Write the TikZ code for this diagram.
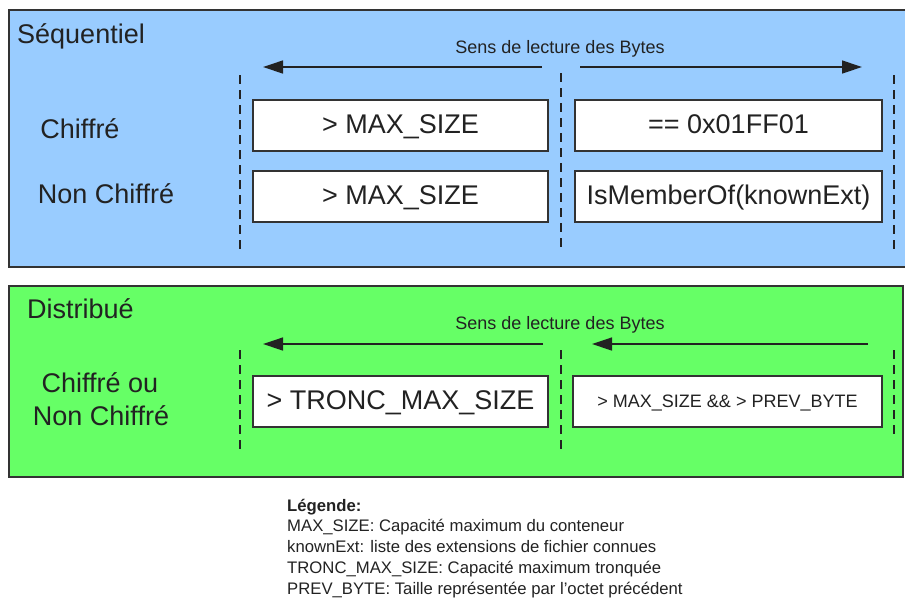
\documentclass[tikz,border=0pt]{standalone}
\usepackage{fontspec}
\setmainfont{Liberation Sans}
\usetikzlibrary{arrows.meta}

\definecolor{seqblue}{HTML}{99CCFF}
\definecolor{distgreen}{HTML}{66FF66}
\definecolor{ink}{HTML}{222222}
\definecolor{edge}{HTML}{333333}

\tikzset{
  panel/.style={draw=edge, line width=1.5pt},
  cbox/.style={draw=edge, fill=white, line width=1.5pt, inner sep=0pt, text=ink,
    font=\fontsize{27}{31}\selectfont, text height=19pt, text depth=3pt},
  bigtext/.style={text=ink, font=\fontsize{27}{31}\selectfont, inner sep=0pt},
  readlabel/.style={text=ink, font=\fontsize{18}{21}\selectfont, inner sep=0pt},
  legendtext/.style={text=ink, font=\fontsize{16.7}{20}\selectfont, inner sep=0pt, anchor=base west},
  readarrow/.style={draw=ink, line width=1.3pt, -{Triangle[length=20pt,width=13pt]}},
  sepline/.style={draw=ink, line width=1.3pt, dash pattern=on 9pt off 6pt},
}

\begin{document}
\begin{tikzpicture}[x=1pt, y=-1pt]
\useasboundingbox (0,0) rectangle (905,600);

% --- Sequential panel ---
\fill[seqblue] (9,10) rectangle (910,267);
\draw[panel] (910,10) -- (9,10) -- (9,267) -- (910,267);
\node[bigtext, anchor=base west] (seqtitle) at (17,43) {Séquentiel};
\node[readlabel, anchor=base] (seqread) at (560,53) {Sens de lecture des Bytes};

\coordinate (sa1s) at (542,67);
\coordinate (sa1e) at (263,67);
\coordinate (sa2s) at (580,67);
\coordinate (sa2e) at (862,67);
\draw[readarrow] (sa1s) -- (sa1e);
\draw[readarrow] (sa2s) -- (sa2e);

\coordinate (sd1t) at (240,75);  \coordinate (sd1b) at (240,253);
\coordinate (sd2t) at (561,73);  \coordinate (sd2b) at (561,251);
\coordinate (sd3t) at (894,75);  \coordinate (sd3b) at (894,253);
\draw[sepline] (sd1t) -- (sd1b);
\draw[sepline] (sd2t) -- (sd2b);
\draw[sepline] (sd3t) -- (sd3b);

\node[bigtext, anchor=base] (chif) at (80,138) {Chiffré};
\node[bigtext, anchor=base] (nonchif) at (106,203) {Non Chiffré};

\node[cbox, minimum width=295pt, minimum height=51pt] (c1) at (400.5,125.5) {> MAX\_SIZE};
\node[cbox, minimum width=307pt, minimum height=51pt] (c2) at (728.5,125.5) {== 0x01FF01};
\node[cbox, minimum width=295pt, minimum height=51pt] (n1) at (400.5,196.5) {> MAX\_SIZE};
\node[cbox, minimum width=307pt, minimum height=51pt] (n2) at (728.5,196.5) {IsMemberOf(knownExt)};

% --- Distributed panel ---
\fill[distgreen] (9,286) rectangle (903,477);
\draw[panel] (9,286) rectangle (903,477);
\node[bigtext, anchor=base west] (disttitle) at (27,318) {Distribué};
\node[readlabel, anchor=base] (distread) at (560,329) {Sens de lecture des Bytes};

\coordinate (da1s) at (543,344);
\coordinate (da1e) at (263,344);
\coordinate (da2s) at (868,344);
\coordinate (da2e) at (592,344);
\draw[readarrow] (da1s) -- (da1e);
\draw[readarrow] (da2s) -- (da2e);

\coordinate (dd1t) at (240,350);  \coordinate (dd1b) at (240,453);
\coordinate (dd2t) at (561,350);  \coordinate (dd2b) at (561,452);
\coordinate (dd3t) at (894,350);  \coordinate (dd3b) at (894,434);
\draw[sepline] (dd1t) -- (dd1b);
\draw[sepline] (dd2t) -- (dd2b);
\draw[sepline] (dd3t) -- (dd3b);

\node[bigtext, anchor=base] (both1) at (100,392) {Chiffré ou};
\node[bigtext, anchor=base] (both2) at (101,425) {Non Chiffré};

\node[cbox, minimum width=295pt, minimum height=51pt] (t1) at (400.5,401.5) {> TRONC\_MAX\_SIZE};
\node[cbox, minimum width=309pt, minimum height=51pt, font=\fontsize{18}{21}\selectfont,
      text height=13pt, text depth=2pt] (t2) at (727.5,401.5) {> MAX\_SIZE \&\& > PREV\_BYTE};

% --- Legend ---
\node[legendtext] (lg0) at (287,511) {\textbf{Légende:}};
\node[legendtext] (lg1) at (287,531.5) {MAX\_SIZE: Capacité maximum du conteneur};
\node[legendtext] (lg2) at (287,552) {knownExt: liste des extensions de fichier connues};
\node[legendtext] (lg3) at (287,573) {TRONC\_MAX\_SIZE: Capacité maximum tronquée};
\node[legendtext] (lg4) at (287,594.5) {PREV\_BYTE: Taille représentée par l'octet précédent};
\end{tikzpicture}
\end{document}
